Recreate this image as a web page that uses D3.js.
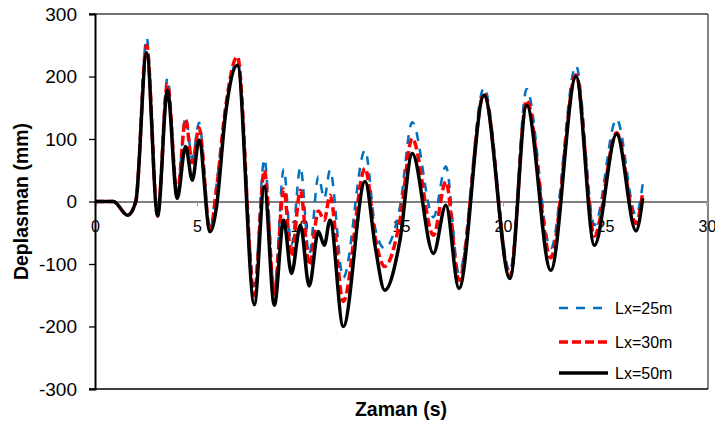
<!DOCTYPE html>
<html>
<head>
<meta charset="utf-8">
<script src="https://cdn.jsdelivr.net/npm/d3@7"></script>
<style>
  body { margin: 0; background: #fff; }
  svg { display: block; font-family: "Liberation Sans", Arial, sans-serif; }
</style>
</head>
<body>
<div id="chart"></div>
<script>
// time (s) at key points, shared by the three series
const times = [0, 0.9, 1.6, 2.0, 2.53, 3.07, 3.55, 4.03, 4.44, 4.77, 5.1, 5.64, 5.95, 6.4, 6.98,
    7.81, 8.3, 8.79, 9.25, 9.63, 10.07, 10.5, 10.95, 11.24, 11.52, 12.17, 13.24, 13.75, 14.2, 14.95,
    15.55, 16.59, 17.2, 17.84, 19.07, 20.34, 21.16, 22.34, 23.58, 24.48, 25.57, 26.52, 26.85];

// displacement (mm)
const lx25 = [0, 0, -22, 0, 262, -23, 197, 15, 135, 68, 126, -45, 25, 145, 226,
    -135, 68, -140, 52, -70, 55, -85, 40, 5, 50, -122, 82, -45, -75, -8,
    127, -25, 56, -115, 182, -112, 180, -75, 217, -38, 132, -22, 28];
const lx30 = [0, 0, -22, 0, 250, -23, 188, 12, 131, 62, 118, -48, 18, 150, 232,
    -150, 50, -148, 20, -88, 18, -102, -15, -30, 10, -160, 53, -60, -104, -30,
    101, -54, 32, -126, 172, -120, 162, -90, 203, -55, 110, -35, 15];
const lx50 = [0, 0, -22, 0, 238, -23, 178, 5, 88, 34, 98, -48, -10, 140, 218,
    -165, 24, -166, -30, -115, -38, -135, -48, -70, -30, -200, 32, -75, -142, -62,
    77, -83, -6, -139, 170, -123, 154, -110, 200, -70, 108, -47, 5];

const seriesNames = ['Lx=25m', 'Lx=30m', 'Lx=50m'];
const xTicks = [0, 5, 10, 15, 20, 25, 30];
const yTicks = [-300, -200, -100, 0, 100, 200, 300];

const width = 715, height = 425;
const plot = { left: 95, right: 707, top: 14, bottom: 389 };

const svg = d3.select('#chart').append('svg')
    .attr('width', width)
    .attr('height', height);

svg.append('rect').attr('width', width).attr('height', height).attr('fill', '#fff');

const xScale = d3.scaleLinear().domain([0, 30]).range([plot.left, plot.right]);
const yScale = d3.scaleLinear().domain([-300, 300]).range([plot.bottom, plot.top]);

// frame: top, right, bottom
svg.append('line')
    .attr('x1', plot.left - 6).attr('x2', plot.right + 1)
    .attr('y1', plot.top).attr('y2', plot.top)
    .attr('stroke', '#404040').attr('stroke-width', 1.3);
svg.append('line')
    .attr('x1', plot.right + 1).attr('x2', plot.right + 1)
    .attr('y1', plot.top).attr('y2', plot.bottom)
    .attr('stroke', '#404040').attr('stroke-width', 1.3);
svg.append('line')
    .attr('x1', plot.left - 6).attr('x2', plot.right + 1)
    .attr('y1', plot.bottom).attr('y2', plot.bottom)
    .attr('stroke', '#000').attr('stroke-width', 1.6);

// x axis sits on the zero line
const xAxis = d3.axisBottom(xScale)
    .tickValues(xTicks)
    .tickSize(5)
    .tickPadding(14)
    .tickFormat(d => d);

const xAxisGroup = svg.append('g')
    .attr('transform', `translate(0, ${yScale(0)})`)
    .call(xAxis);
xAxisGroup.select('.domain').attr('stroke', '#808080').attr('stroke-width', 2);
xAxisGroup.selectAll('.tick line').attr('stroke', '#a0a0a0').attr('stroke-width', 1);
xAxisGroup.selectAll('.tick text')
    .attr('font-size', 16)
    .attr('fill', '#000')
    .attr('font-family', '"Liberation Sans", Arial, sans-serif');

// y axis
const yAxis = d3.axisLeft(yScale)
    .tickValues(yTicks)
    .tickSize(6)
    .tickPadding(12)
    .tickFormat(d => d);

const yAxisGroup = svg.append('g')
    .attr('transform', `translate(${plot.left}, 0)`)
    .call(yAxis);
yAxisGroup.select('.domain').attr('stroke', '#000').attr('stroke-width', 2);
yAxisGroup.selectAll('.tick line').attr('stroke', '#000').attr('stroke-width', 1.3);
yAxisGroup.selectAll('.tick text')
    .attr('font-size', 19)
    .attr('fill', '#000')
    .attr('font-family', '"Liberation Sans", Arial, sans-serif');

// lines
const styles = [
    { data: lx25, color: '#0070C0', width: 2.5, dash: '9,8' },
    { data: lx30, color: '#FF0000', width: 3.5, dash: '9,4' },
    { data: lx50, color: '#000000', width: 3.5, dash: null }
];

const line = d3.line()
    .x((d, i) => xScale(times[i]))
    .y(d => yScale(d))
    .curve(d3.curveMonotoneX);

styles.forEach(s => {
    svg.append('path')
        .datum(s.data)
        .attr('d', line)
        .attr('fill', 'none')
        .attr('stroke', s.color)
        .attr('stroke-width', s.width)
        .attr('stroke-dasharray', s.dash)
        .attr('stroke-linejoin', 'round');
});

// legend
const legendY = [308, 342, 373];
styles.forEach((s, i) => {
    svg.append('line')
        .attr('x1', 559).attr('x2', 608)
        .attr('y1', legendY[i]).attr('y2', legendY[i])
        .attr('stroke', s.color)
        .attr('stroke-width', s.width)
        .attr('stroke-dasharray', s.dash);
    svg.append('text')
        .attr('x', 615)
        .attr('y', legendY[i])
        .attr('dy', '0.35em')
        .attr('font-size', 16)
        .text(seriesNames[i]);
});

// axis titles
svg.append('text')
    .attr('x', (plot.left + plot.right) / 2)
    .attr('y', 416)
    .attr('text-anchor', 'middle')
    .attr('font-size', 19.5)
    .attr('font-weight', 'bold')
    .text('Zaman (s)');

svg.append('text')
    .attr('transform', `translate(28, ${(plot.top + plot.bottom) / 2}) rotate(-90)`)
    .attr('text-anchor', 'middle')
    .attr('font-size', 19.5)
    .attr('font-weight', 'bold')
    .text('Deplasman (mm)');
</script>
</body>
</html>
